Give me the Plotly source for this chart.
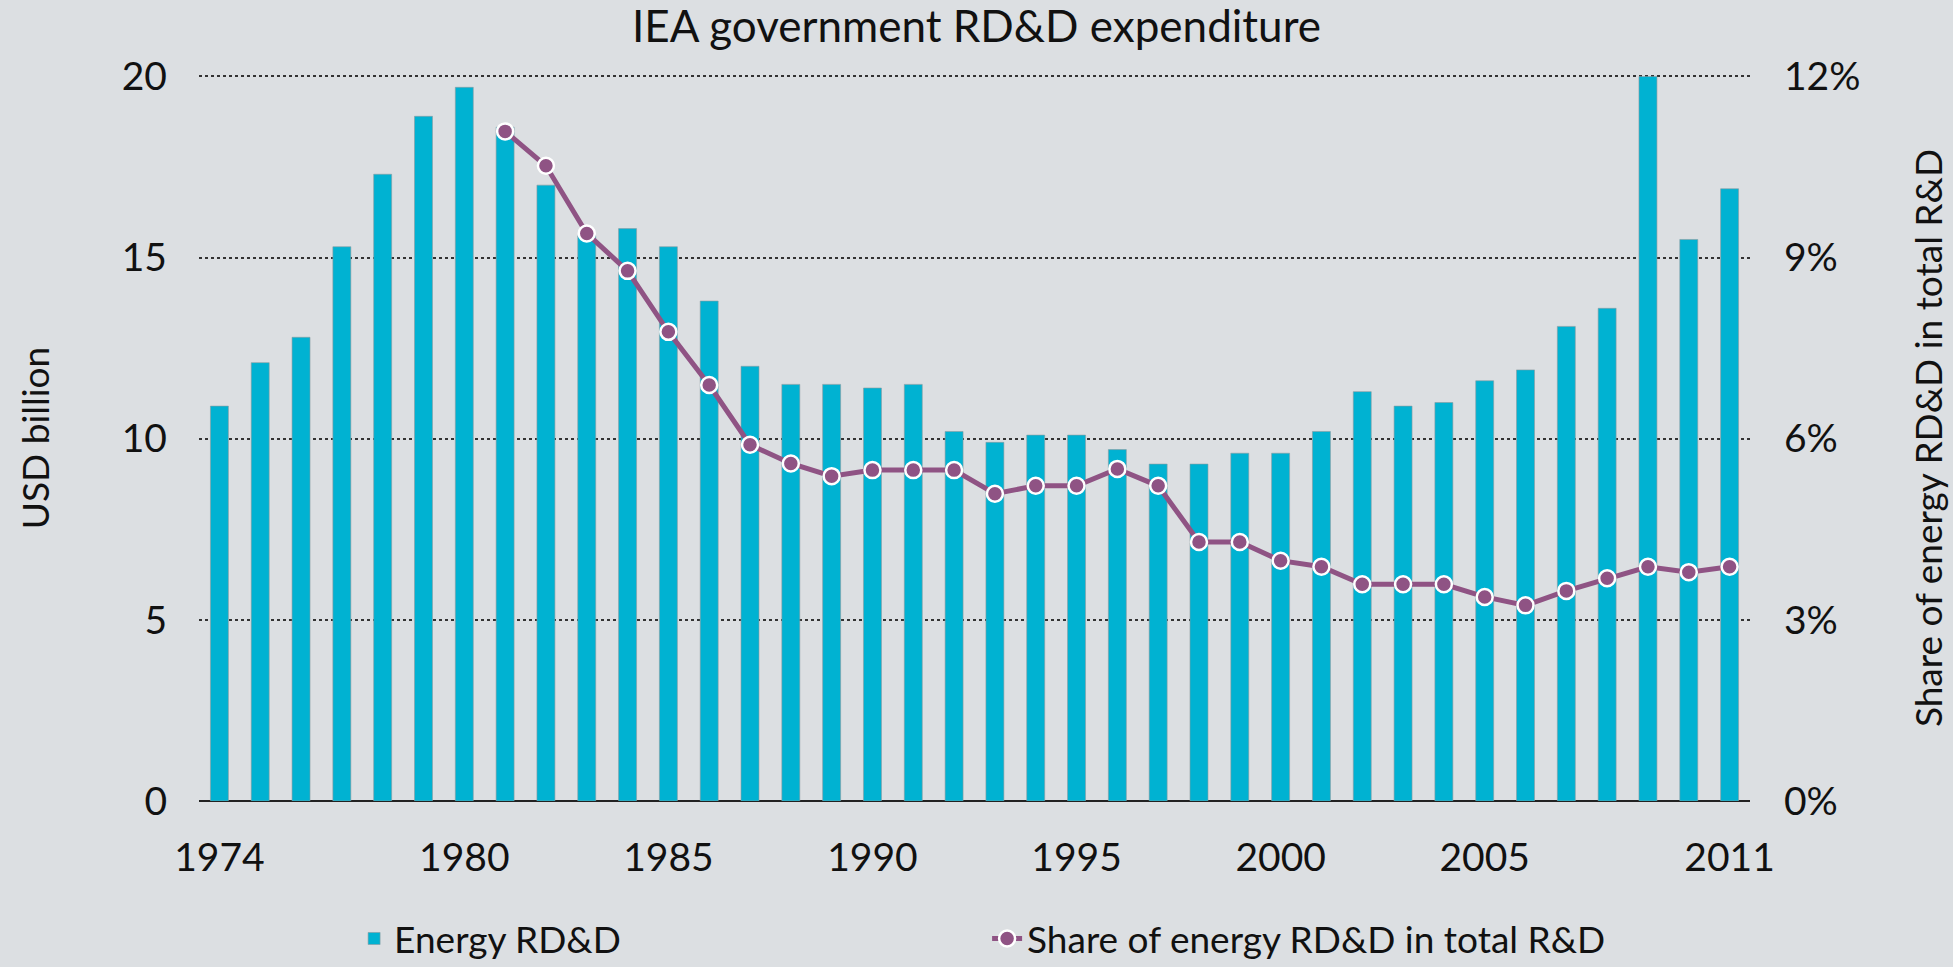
import plotly.graph_objects as go

years = list(range(1974, 2012))
energy_rdd = [10.9, 12.1, 12.8, 15.3, 17.3, 18.9, 19.7, 18.6, 17.0, 15.6,
              15.8, 15.3, 13.8, 12.0, 11.5, 11.5, 11.4, 11.5, 10.2, 9.9,
              10.1, 10.1, 9.7, 9.3, 9.3, 9.6, 9.6, 10.2, 11.3, 10.9,
              11.0, 11.6, 11.9, 13.1, 13.6, 20.0, 15.5, 16.9]
share_years = list(range(1981, 2012))
share_pct = [11.09, 10.52, 9.40, 8.78, 7.77, 6.89, 5.90, 5.59, 5.38, 5.48,
             5.48, 5.48, 5.09, 5.22, 5.22, 5.50, 5.22, 4.29, 4.29, 3.98,
             3.88, 3.59, 3.59, 3.59, 3.38, 3.24, 3.48, 3.69, 3.88, 3.79, 3.88]
x_ticks = [1974, 1980, 1985, 1990, 1995, 2000, 2005, 2011]
left_ticks = [0, 5, 10, 15, 20]
right_ticks = [0, 3, 6, 9, 12]

FONT = "Lato, 'Open Sans', sans-serif"
BG = "#DCDFE2"
TXT = "#111111"
YMAX = 20.04

fig = go.Figure()
fig.add_trace(go.Bar(
    x=years, y=energy_rdd, name="Energy RD&D", width=0.44,
    marker=dict(color="#00B2D2", line=dict(color="#8a9aa0", width=0.6)),
    yaxis="y",
))
fig.add_trace(go.Scatter(
    x=share_years, y=share_pct, name="Share of energy RD&D in total R&D",
    mode="lines+markers", yaxis="y2",
    line=dict(color="#8F5384", width=5),
    marker=dict(size=16, color="#8F5384", line=dict(color="white", width=2.5)),
))

fig.update_layout(
    width=1953, height=967,
    paper_bgcolor=BG, plot_bgcolor=BG,
    margin=dict(l=199, r=203, t=75, b=166, autoexpand=False),
    font=dict(family=FONT, size=38, color=TXT),
    title=dict(text="IEA government RD&D expenditure", x=0.5, xanchor="center",
               y=0.972, yanchor="middle", font=dict(size=44, color=TXT)),
    showlegend=True,
    legend=dict(orientation="h", x=0.100, xanchor="left", y=-0.19, yanchor="middle",
                font=dict(size=37), entrywidth=588, entrywidthmode="pixels",
                bgcolor="rgba(0,0,0,0)"),
    xaxis=dict(range=[1973.5, 2011.5], tickvals=x_ticks,
               ticktext=[str(v) for v in x_ticks], showgrid=False,
               ticks="", showline=False, zeroline=False,
               tickfont=dict(size=39), ticklabelstandoff=30),
    yaxis=dict(range=[0, YMAX], tickvals=left_ticks, showgrid=True,
               gridcolor="#333", griddash="dot", gridwidth=1.5,
               zeroline=True, zerolinecolor="#222", zerolinewidth=2,
               ticks="", showline=False, tickfont=dict(size=39),
               ticklabelstandoff=31,
               title=dict(text="USD billion", font=dict(size=37), standoff=60)),
    yaxis2=dict(range=[0, 12 * YMAX / 20], tickvals=right_ticks,
                ticktext=[f"{v}%" for v in right_ticks],
                overlaying="y", side="right", showgrid=False, zeroline=False,
                ticks="", showline=False, tickfont=dict(size=39),
                ticklabelstandoff=33,
                title=dict(text="Share of energy RD&D in total R&D",
                           font=dict(size=37), standoff=56)),
)

fig.write_html("out.html", config={"displayModeBar": False},
               post_script="document.body.style.margin='0px';document.body.style.background='%s';" % BG)
